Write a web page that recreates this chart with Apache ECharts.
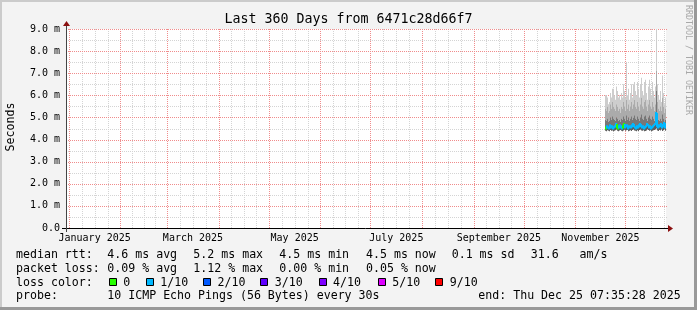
<!DOCTYPE html>
<html><head><meta charset="utf-8">
<script src="https://cdn.jsdelivr.net/npm/echarts@6/dist/echarts.min.js"></script>
<style>html,body{margin:0;padding:0;background:#f3f3f3}#c{width:697px;height:310px}</style>
</head><body><div id="c"></div>
<script>
// ---- time range (UTC) ----
const rangeStart = Date.UTC(2024, 11, 30, 7, 35, 28);
const rangeEnd = Date.UTC(2025, 11, 25, 7, 35, 28);
const stepMs = 0.6 * 86400000; // one rrd row per pixel (360 days / 600 px)

// ---- x tick labels (centred on their month) ----
const xLabelMonths = [[2025, 0], [2025, 2], [2025, 4], [2025, 6], [2025, 8], [2025, 10]];
const xLabelTexts = ['January 2025', 'March 2025', 'May 2025', 'July 2025', 'September 2025', 'November 2025'];

// ---- y ticks ----
const yTickValues = [0, 1, 2, 3, 4, 5, 6, 7, 8, 9];
const yMinorValues = [0.5, 1.5, 2.5, 3.5, 4.5, 5.5, 6.5, 7.5, 8.5];

// ---- per-column rtt values (ms), last 61 rows ----
const minRtt = [4.40,4.38,4.42,4.40,4.37,4.43,4.40,4.41,4.38,4.40,
  4.42,4.45,4.40,4.38,4.41,4.43,4.40,4.37,4.41,4.44,
  4.40,4.42,4.43,4.38,4.40,4.42,4.39,4.43,4.45,4.41,
  4.40,4.37,4.42,4.39,4.43,4.45,4.41,4.40,4.42,4.37,
  4.39,4.41,4.45,4.43,4.40,4.42,4.38,4.40,4.42,4.43,
  4.45,4.50,4.41,4.39,4.43,4.41,4.45,4.39,4.42,4.47,4.40];
const medianRtt = [4.55,4.5,4.6,4.55,4.5,4.65,4.55,4.6,4.5,4.55,
  4.6,4.7,4.55,4.5,4.6,4.65,4.55,4.5,4.6,4.7,
  4.55,4.6,4.65,4.5,4.55,4.6,4.55,4.65,4.7,4.6,
  4.55,4.5,4.6,4.55,4.65,4.7,4.6,4.55,4.6,4.5,
  4.55,4.6,4.7,4.65,4.55,4.6,4.5,4.55,4.6,4.65,
  4.7,5.2,4.6,4.55,4.65,4.6,4.7,4.55,4.6,4.75,4.55];
const innerHighRtt = [4.9,4.85,4.95,4.8,4.85,5.0,4.9,5.05,4.95,4.9,
  4.85,5.0,4.95,4.85,4.9,4.8,4.95,4.9,5.05,4.95,
  4.85,5.1,4.9,5.0,4.85,4.95,5.05,4.9,5.0,5.1,
  4.95,4.9,5.05,4.95,4.85,5.0,5.15,4.95,4.9,5.05,
  5.1,4.95,4.85,5.0,5.1,4.95,4.9,5.05,4.95,4.85,
  5.0,6.2,5.05,4.9,4.85,4.95,4.85,5.15,4.95,4.8,4.9];
const outerHighRtt = [5.4,5.3,5.5,5.2,5.3,5.6,5.4,5.7,5.5,5.4,
  5.3,5.6,5.5,5.3,5.4,5.2,5.5,5.4,5.7,5.5,
  5.3,5.8,5.4,5.6,5.3,5.5,5.7,5.4,5.6,5.8,
  5.5,5.4,5.7,5.5,5.3,5.6,5.9,5.5,5.4,5.7,
  5.8,5.5,5.3,5.6,5.8,5.5,5.4,5.7,5.5,5.3,
  5.6,7.1,5.7,5.4,5.3,5.5,5.3,5.9,5.5,5.2,5.4];
const maxRtt = [6.0,6.0,5.9,5.6,5.7,6.1,5.9,6.3,6.3,6.0,
  5.8,6.4,6.2,5.9,6.0,5.8,6.1,5.9,6.5,6.2,
  5.9,7.5,6.0,6.3,5.8,6.1,6.5,5.9,6.5,6.6,
  6.2,6.0,6.6,6.3,5.9,6.5,6.8,6.2,6.0,6.6,
  6.7,6.1,5.8,6.4,6.7,6.3,6.0,6.6,6.2,5.9,
  6.4,9.1,6.5,6.0,5.8,6.2,5.7,6.9,6.1,5.6,5.9];
const lossClass = [0,0,1,1,1,1,1,1,1,1,
  1,1,0,0,1,1,1,1,0,0,
  1,1,1,1,1,1,1,1,1,1,
  1,1,1,1,1,1,1,1,1,1,
  1,1,1,1,1,1,1,1,1,1,
  1,1,1,1,1,1,1,1,1,1,1];

// ---- legend ----
const lossColorLabels = ['0', '1/10', '2/10', '3/10', '4/10', '5/10', '9/10'];
const lossColors = ['#26ff00', '#00b8ff', '#0059ff', '#5e00ff', '#7e00ff', '#dd00ff', '#ff0000'];
const medianStats = ['4.6 ms avg', '5.2 ms max', '4.5 ms min', '4.5 ms now', '0.1 ms sd', '31.6   am/s'];
const lossStats = ['0.09 % avg', '1.12 % max', '0.00 % min', '0.05 % now'];
const rowLabels = ['median rtt:', 'packet loss:', 'loss color:', 'probe:'];
const probeText = '10 ICMP Echo Pings (56 Bytes) every 30s';
const endText = 'end: Thu Dec 25 07:35:28 2025';
const titleText = 'Last 360 Days from 6471c28d66f7';

// ---------- build ----------
const N = maxRtt.length;
const firstCol = rangeEnd - N * stepMs;
const smokeData = [];
const medianData = [];
for (let i = 0; i < N; i++) {
  const t = firstCol + i * stepMs;
  smokeData.push([t, minRtt[i], medianRtt[i], innerHighRtt[i], outerHighRtt[i], maxRtt[i]]);
  medianData.push([t, medianRtt[i], i > 0 ? medianRtt[i - 1] : medianRtt[i], lossClass[i]]);
}
const monthStarts = [];
const quarterLines = [];
for (let m = -1; m <= 12; m++) {
  const a = Date.UTC(2025, m, 1), b = Date.UTC(2025, m + 1, 1);
  if (a >= rangeStart && a <= rangeEnd) monthStarts.push(a);
  for (let k = 1; k < 4; k++) {
    const q = a + (b - a) * k / 4;
    if (q >= rangeStart && q <= rangeEnd) quarterLines.push(q);
  }
}
const labelValues = xLabelMonths.map(([y, m]) => (Date.UTC(y, m, 1) + Date.UTC(y, m + 1, 1)) / 2);
// grid line items: [x, y, kind] kind 0 minor vertical, 1 minor horizontal, 2 major vertical, 3 major horizontal
const gridData = [];
quarterLines.forEach(t => gridData.push([t, 0, 0]));
yMinorValues.forEach(v => gridData.push([rangeStart, v, 1]));
monthStarts.forEach(t => gridData.push([t, 0, 2]));
yTickValues.forEach(v => gridData.push([rangeStart, v, 3]));

const MONO = 'DejaVu Sans Mono';
const GL = 66, GT = 29, GW = 600, GH = 199;
const gridColors = ['#d4d4d4', '#d4d4d4', '#f08c8c', '#f08c8c'];

const graphics = [];
// frame
graphics.push({type:'rect', shape:{x:0,y:0,width:697,height:2}, style:{fill:'#cbcbcb'}, z:-9});
graphics.push({type:'rect', shape:{x:0,y:0,width:2,height:310}, style:{fill:'#cbcbcb'}, z:-9});
graphics.push({type:'rect', shape:{x:694,y:0,width:3,height:310}, style:{fill:'#999999'}, z:-9});
graphics.push({type:'rect', shape:{x:0,y:307,width:697,height:3}, style:{fill:'#999999'}, z:-9});
// title etc
graphics.push({type:'text', x:348.5, y:19.5, style:{text:titleText, fontFamily:MONO, fontSize:13.3, fill:'#000', align:'center', verticalAlign:'middle'}});
graphics.push({type:'text', x:10.5, y:127, rotation:Math.PI/2, style:{text:'Seconds', fontFamily:MONO, fontSize:11.6, fill:'#000', align:'center', verticalAlign:'middle'}});
graphics.push({type:'text', x:688, y:5, rotation:-Math.PI/2, style:{text:'RRDTOOL / TOBI OETIKER', fontFamily:MONO, fontSize:8.3, fill:'#a8a8a8', align:'left', verticalAlign:'middle'}});
// axes lines + arrows
graphics.push({type:'line', shape:{x1:62,y1:228.5,x2:669,y2:228.5}, style:{stroke:'#000', lineWidth:1}, z:50});
graphics.push({type:'line', shape:{x1:66.5,y1:232,x2:66.5,y2:25}, style:{stroke:'#444', lineWidth:1}, z:50});
graphics.push({type:'polygon', shape:{points:[[668,225],[673,228.5],[668,232]]}, style:{fill:'#8b1010'}, z:51});
graphics.push({type:'polygon', shape:{points:[[63,26],[66.5,21],[70,26]]}, style:{fill:'#8b1010'}, z:51});
// legend rows
const rowY = [254.5, 268.5, 282.5, 296];
const itemX = [107.3, 193.3, 279.3, 366, 451.7, 530.7];
rowLabels.forEach((t, i) => graphics.push({type:'text', x:16, y:rowY[i], style:{text:t, fontFamily:MONO, fontSize:11.6, fill:'#000', verticalAlign:'middle'}}));
medianStats.forEach((t, i) => graphics.push({type:'text', x:itemX[i], y:rowY[0], style:{text:t, fontFamily:MONO, fontSize:11.6, fill:'#000', verticalAlign:'middle'}}));
lossStats.forEach((t, i) => graphics.push({type:'text', x:itemX[i], y:rowY[1], style:{text:t, fontFamily:MONO, fontSize:11.6, fill:'#000', verticalAlign:'middle'}}));
const sqX = [108.7, 145.7, 203, 260.3, 318.5, 377.7, 435.3];
lossColorLabels.forEach((t, i) => {
  graphics.push({type:'rect', shape:{x:Math.round(sqX[i]) + 0.5, y:278.5, width:7, height:7}, style:{fill:lossColors[i], stroke:'#000', lineWidth:1}});
  graphics.push({type:'text', x:sqX[i] + 14.5, y:rowY[2], style:{text:t, fontFamily:MONO, fontSize:11.6, fill:'#000', verticalAlign:'middle'}});
});
graphics.push({type:'text', x:107.3, y:rowY[3], style:{text:probeText, fontFamily:MONO, fontSize:11.6, fill:'#000', verticalAlign:'middle'}});
graphics.push({type:'text', x:478.3, y:rowY[3], style:{text:endText, fontFamily:MONO, fontSize:11.6, fill:'#000', verticalAlign:'middle'}});

const chart = echarts.init(document.getElementById('c'), null, {renderer:'canvas'});
chart.setOption({
  animation: false,
  backgroundColor: '#f3f3f3',
  grid: {left:GL, top:GT, width:GW, height:GH, show:true, backgroundColor:'#ffffff', borderWidth:0, containLabel:false},
  xAxis: {type:'value', min:rangeStart, max:rangeEnd, position:'bottom',
     axisLine:{show:false}, axisTick:{show:false},
     axisLabel:{show:true, customValues:labelValues, margin:5, fontFamily:MONO, fontSize:10, color:'#000',
       formatter:(v) => { const i = labelValues.indexOf(v); return i >= 0 ? xLabelTexts[i] : ''; }},
     splitLine:{show:false}},
  yAxis: {type:'value', min:0, max:9, interval:1,
    axisLine:{show:false}, axisTick:{show:false},
    axisLabel:{margin:6, fontFamily:MONO, fontSize:10, color:'#000',
      formatter:(v) => yTickValues.indexOf(v) < 0 ? '' : (v === 0 ? '0.0' : v.toFixed(1) + ' m')},
    splitLine:{show:false}},
  series: [
    {type:'custom', clip:false, data:gridData, silent:true, z:1,
     renderItem:(params, api) => {
       const cs = params.coordSys;
       const kind = api.value(2);
       const color = gridColors[kind];
       if (kind === 0 || kind === 2) {
         const x = Math.round(api.coord([api.value(0), 0])[0]);
         const dots = [];
         for (let yy = cs.y; yy < cs.y + cs.height; yy += 2) {
           dots.push({type:'rect', shape:{x:x, y:yy, width:1, height:1}, style:{fill:color}});
         }
         return {type:'group', children:dots};
       }
       const y = Math.round(api.coord([rangeStart, api.value(1)])[1]);
       const dots = [];
       for (let xx = cs.x; xx < cs.x + cs.width + 2; xx += 2) {
         dots.push({type:'rect', shape:{x:xx, y:y, width:1, height:1}, style:{fill:color}});
       }
       return {type:'group', children:dots};
     }},
    {type:'custom', clip:true, data:smokeData, encode:{x:0, y:[1,5]}, z:2,
     renderItem:(params, api) => {
       const t = api.value(0);
       const x0 = api.coord([t, 0])[0];
       const x1 = api.coord([t + stepMs, 0])[0];
       const w = x1 - x0;
       const y = (k) => api.coord([t, api.value(k)])[1];
       const yMin = y(1), yMed = y(2), yIn = y(3), yOut = y(4), yMax = y(5);
       const r = (ya, yb, fill) => ({type:'rect', shape:{x:x0, y:yb, width:w, height:ya - yb}, style:{fill}});
       return {type:'group', children:[
         r(yOut, yMax, '#cdcdcd'),
         r(yIn, yOut, '#ababab'),
         r(yMed, yIn, '#777777'),
         r(yMin, yMed, '#5e5e5e')
       ]};
     }},
    {type:'custom', clip:true, data:medianData, encode:{x:0, y:1}, z:5,
     renderItem:(params, api) => {
       const t = api.value(0);
       const x0 = api.coord([t, 0])[0];
       const x1 = api.coord([t + stepMs, 0])[0];
       const yc = api.coord([t, api.value(1)])[1];
       const yp = api.coord([t, api.value(2)])[1];
       const col = lossColors[api.value(3)];
       return {type:'polyline', shape:{points:[[x0, yp], [x0, yc], [x1, yc]]}, style:{stroke:col, lineWidth:2, fill:null}};
     }}
  ],
  graphic: graphics
});
</script></body></html>
